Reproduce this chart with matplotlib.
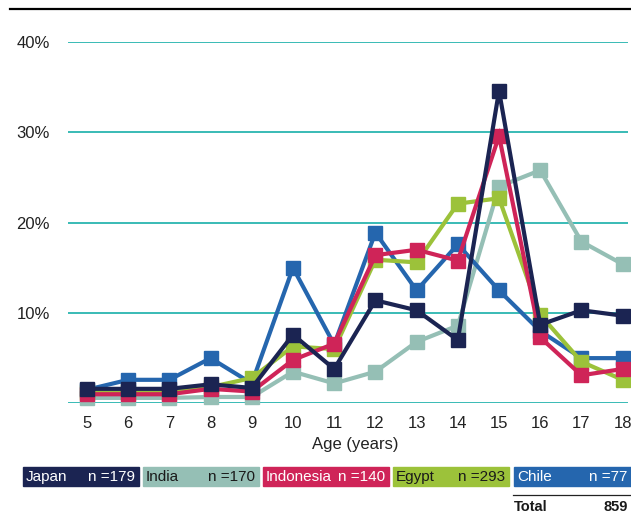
import matplotlib
matplotlib.use('Agg')
import matplotlib.pyplot as plt
from matplotlib.patches import Rectangle
from matplotlib.lines import Line2D

# Data (share of respondents by age, %)
ages = [5, 6, 7, 8, 9, 10, 11, 12, 13, 14, 15, 16, 17, 18]
japan = [1.6, 1.6, 1.6, 2.1, 1.7, 7.6, 3.8, 11.4, 10.3, 7.0, 34.6, 8.7, 10.3, 9.7]
india = [0.6, 0.6, 0.6, 0.7, 0.7, 3.5, 2.2, 3.5, 6.8, 8.6, 24.0, 25.8, 17.9, 15.4]
indonesia = [1.0, 1.0, 1.0, 1.6, 1.3, 4.8, 6.6, 16.4, 17.0, 15.8, 29.6, 7.3, 3.1, 3.8]
egypt = [1.2, 1.2, 1.2, 1.8, 2.8, 6.3, 6.0, 15.9, 15.6, 22.1, 22.7, 9.8, 4.6, 2.6]
chile = [1.5, 2.6, 2.6, 5.0, 2.2, 15.0, 6.5, 18.9, 12.5, 17.6, 12.5, 8.0, 5.0, 5.0]

countries = ['Japan', 'India', 'Indonesia', 'Egypt', 'Chile']
sample_sizes = [179, 170, 140, 293, 77]
total_n = 859
colors = ['#1b2452', '#95bfb5', '#cf2458', '#9cc23a', '#2566ae']
text_colors = ['white', '#1a1a1a', 'white', '#1a1a1a', 'white']

yticks = [10, 20, 30, 40]

plt.rcParams['font.family'] = ['Liberation Sans', 'DejaVu Sans']

W, H = 631, 514
fig = plt.figure(figsize=(W / 100, H / 100), dpi=100)
ax = fig.add_axes([68 / W, 1 - 403.3 / H, 560 / W, (403.3 - 42) / H])

# draw order: bottom to top
series = {'Japan': japan, 'India': india, 'Indonesia': indonesia, 'Egypt': egypt, 'Chile': chile}
z_order = {'India': 3, 'Chile': 4, 'Egypt': 5, 'Indonesia': 6, 'Japan': 7}
for name, col in zip(countries, colors):
    ax.plot(ages, series[name], color=col, lw=3, marker='s', markersize=10,
            solid_joinstyle='miter', zorder=z_order[name], clip_on=False)

ax.set_xlim(4.54, 18.13)
ax.set_ylim(0, 40)
ax.set_yticks([0] + yticks)
ax.set_yticklabels([''] + ['{}%'.format(v) for v in yticks])
ax.set_xticks(ages)
ax.set_xticklabels([str(a) for a in ages])
ax.grid(axis='y', color='#2ab5b0', lw=1.3)
ax.set_axisbelow(True)
for s in ax.spines.values():
    s.set_visible(False)
ax.tick_params(length=0, labelsize=12, colors='#222222')
ax.tick_params(axis='y', pad=13)
ax.tick_params(axis='x', pad=9)
fig.text(355 / W, 1 - 444 / H, 'Age (years)', fontsize=12, color='#222222',
         ha='center', va='center')

# top rule
fig.add_artist(Line2D([10 / W, 1], [1 - 9 / H, 1 - 9 / H], color='black', lw=1.6))

# legend boxes (left/right pixel edges)
box_edges = [(23, 139), (143, 259), (263, 389), (393, 509), (514, 631)]
y_top, y_bot = 467, 486
for (left, right), name, n, col, tc in zip(box_edges, countries, sample_sizes, colors, text_colors):
    fig.patches.append(Rectangle((left / W, 1 - y_bot / H), (right - left) / W, (y_bot - y_top) / H,
                                 transform=fig.transFigure, color=col, zorder=1))
    ybase = 1 - 481 / H
    fig.text((left + 3) / W, ybase, name, fontsize=11, color=tc, ha='left', va='baseline')
    fig.text((right - 4) / W, ybase, 'n =' + str(n), fontsize=11, color=tc,
             ha='right', va='baseline')

# total row
fig.add_artist(Line2D([513 / W, 1], [1 - 495 / H, 1 - 495 / H], color='#222222', lw=0.9))
fig.text(514 / W, 1 - 511 / H, 'Total', fontsize=10.5, fontweight='bold', color='#1a1a1a',
         ha='left', va='baseline')
fig.text(628 / W, 1 - 511 / H, str(total_n), fontsize=10.5, fontweight='bold', color='#1a1a1a',
         ha='right', va='baseline')

fig.savefig('out.png', dpi=100)
